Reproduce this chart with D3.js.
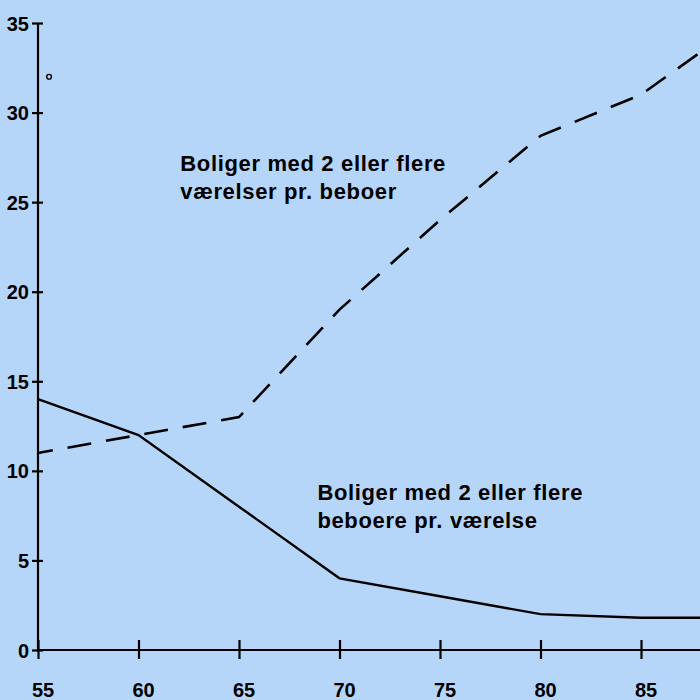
<!DOCTYPE html>
<html><head><meta charset="utf-8">
<script src="https://cdn.jsdelivr.net/npm/d3@7"></script>
<style>
html,body{margin:0;padding:0;background:#b6d6f9;}
svg{display:block;}
text{font-family:"Liberation Sans",Arial,Helvetica,sans-serif;fill:#000;}
</style></head>
<body>
<svg id="c" width="700" height="700"></svg>
<script>
const years = [55, 60, 65, 70, 75, 80, 85, 90];
const roomsPerResident = [11, 12, 13, 19, 24, 28.7, 31, 35];      // dashed
const residentsPerRoom = [14, 12, 8, 4, 3, 2, 1.8, 1.8];           // solid
const xTicks = [55, 60, 65, 70, 75, 80, 85];
const yTicks = [0, 5, 10, 15, 20, 25, 30, 35];
const labelDashed = ["Boliger med 2 eller flere", "værelser pr. beboer"];
const labelSolid = ["Boliger med 2 eller flere", "beboere pr. værelse"];

const svg = d3.select("#c");
svg.append("rect").attr("width",700).attr("height",700).attr("fill","#b6d6f9");

const x = d3.scaleLinear().domain([55, 90]).range([38, 741.5]);
const y = d3.scaleLinear().domain([0, 35]).range([650, 23]);

// axes
const gx = svg.append("g").attr("transform",`translate(0,${y(0)})`)
  .call(d3.axisBottom(x).tickValues(xTicks).tickSize(0).tickFormat(d3.format("d")));
gx.select(".domain").remove();
gx.append("line").attr("x1",x(55)).attr("x2",700).attr("stroke","#000").attr("stroke-width",2.2);
gx.selectAll(".tick line").remove();
gx.selectAll(".tick").append("line").attr("y1",-10).attr("y2",9).attr("stroke","#000").attr("stroke-width",2.2);
gx.selectAll(".tick text").attr("dy",null).attr("y",47).attr("x",4.5)
  .style("font-size","20px").style("font-weight","bold").attr("fill","#000").attr("text-anchor","middle");

const gy = svg.append("g").attr("transform",`translate(${x(55)},0)`)
  .call(d3.axisLeft(y).tickValues(yTicks).tickSize(0).tickFormat(d3.format("d")));
gy.select(".domain").remove();
gy.append("line").attr("y1",y(35)).attr("y2",y(0)).attr("stroke","#000").attr("stroke-width",2.2);
gy.selectAll(".tick line").remove();
gy.selectAll(".tick").append("line").attr("x1",-6).attr("x2",5).attr("stroke","#000").attr("stroke-width",2.2);
gy.selectAll(".tick text").attr("x",-9).attr("dy","0.35em")
  .style("font-size","20px").style("font-weight","bold").attr("fill","#000").attr("text-anchor","end");

const line = d3.line().x((d,i)=>x(years[i])).y(d=>y(d));

svg.append("path").datum(residentsPerRoom).attr("d",line)
  .attr("fill","none").attr("stroke","#000").attr("stroke-width",2.4);
svg.append("path").datum(roomsPerResident).attr("d",line)
  .attr("fill","none").attr("stroke","#000").attr("stroke-width",2.6)
  .attr("stroke-dasharray","24 15").attr("stroke-dashoffset",9);

// small circle mark near top-left
svg.append("circle").attr("cx",x(55.55)).attr("cy",y(32)).attr("r",2.4)
  .attr("fill","none").attr("stroke","#000").attr("stroke-width",1.4);

function label(lines, xv, yv){
  const t = svg.append("text").attr("x",x(xv)).attr("y",y(yv))
    .style("font-size","22px").style("font-weight","bold").style("letter-spacing","0.65px");
  lines.forEach((s,i)=>t.append("tspan").attr("x",x(xv)).attr("dy",i?28:0).text(s));
}
label(labelDashed, 62.08, 26.75);
label(labelSolid, 68.9, 8.4);
</script>
</body></html>
